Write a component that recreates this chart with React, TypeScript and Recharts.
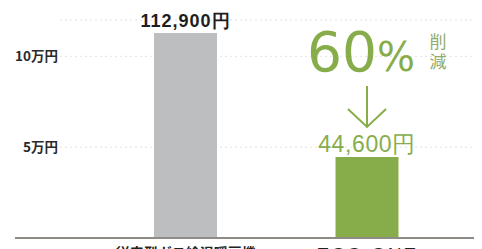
import { Bar, BarChart, CartesianGrid, Cell, LabelList, ReferenceLine, XAxis, YAxis } from "recharts";

const categories = ["従来型ガス給湯暖房機", "ECO ONE"];
const costs = [112900, 44600];
const costLabels = ["112,900円", "44,600円"];
const yTicks = [50000, 100000];
const yTickLabels = ["5万円", "10万円"];
const reduction = "60";

const data = categories.map((name, i) => ({ name, cost: costs[i], label: costLabels[i] }));

const GRAY = "#bdbec0";
const GREEN = "#87ad4b";
const JP = "'Noto Sans CJK JP', 'Noto Sans', sans-serif";
const BIG = "'DejaVu Sans', sans-serif";

function XTick(props: any) {
  const { x, y, payload, index } = props;
  const eco = index === 1;
  return (
    <text x={x} y={y + (eco ? 15 : 12)} textAnchor="middle" fontFamily={eco ? "'Liberation Sans', sans-serif" : JP}
      fontSize={eco ? 19 : 14} fontWeight={eco ? 400 : 700} fill="#222" letterSpacing={eco ? 2 : 0}>
      {payload.value}
    </text>
  );
}

function CostLabel(props: any) {
  const vb = props.viewBox ?? props;
  const x = props.x ?? vb.x;
  const y = props.y ?? vb.y;
  const width = props.width ?? vb.width;
  const cx = x + width / 2;
  if (props.index === 0) {
    return (
      <text x={cx} y={y - 6} textAnchor="middle" fontFamily="'Liberation Sans', sans-serif" fontSize={18}
        fontWeight={700} fill="#1e1e1e" letterSpacing={1}>{data[0].label}</text>
    );
  }
  return (
    <g>
      <text x={cx} y={y - 5} textAnchor="middle" fontFamily="'Liberation Sans', sans-serif" fontSize={23}
        fill={GREEN} letterSpacing={0.6}>{data[1].label}</text>
      <g stroke={GREEN} strokeWidth={2} fill="none">
        <line x1={cx} y1={y - 71} x2={cx} y2={y - 30} />
        <polyline points={`${cx - 19},${y - 48} ${cx},${y - 30} ${cx + 19},${y - 48}`} />
      </g>
      <text x={cx + 10} y={y - 86} textAnchor="end" fontFamily={BIG} fontSize={55}
        fill={GREEN}>{reduction}</text>
      <text x={cx + 10} y={y - 86} textAnchor="start" fontFamily={BIG} fontSize={40} letterSpacing={-1}
        fill={GREEN}>%</text>
      <text x={cx + 71} y={y - 109} textAnchor="middle" fontFamily={JP} fontSize={17} fill="#8fab6e">削</text>
      <text x={cx + 71} y={y - 89} textAnchor="middle" fontFamily={JP} fontSize={17} fill="#8fab6e">減</text>
    </g>
  );
}

export default function App() {
  return (
    <BarChart width={474} height={270} data={data} margin={{ top: 12, right: 0, bottom: 0, left: 7 }}>
      <CartesianGrid vertical={false} stroke="#e2e2e2" strokeDasharray="2 3" />
      <XAxis dataKey="name" axisLine={false} tickLine={false} height={40} padding={{ left: 35, right: 24 }}
        tick={<XTick />} interval={0} />
      <YAxis width={45} domain={[0, 120000]} ticks={yTicks} axisLine={false} tickLine={false} tickSize={0}
        tickMargin={2} tickFormatter={(v: number) => yTickLabels[yTicks.indexOf(v)]}
        tick={{ fontSize: 13.5, fontWeight: 700, fill: "#2a2a2a", fontFamily: JP }} />
      <Bar dataKey="cost" barSize={63} isAnimationActive={false}>
        {data.map((d, i) => <Cell key={d.name} fill={i === 0 ? GRAY : GREEN} />)}
        <LabelList dataKey="label" content={<CostLabel />} />
      </Bar>
      <ReferenceLine y={0} stroke="#8f8c88" strokeWidth={2}
        shape={(p: any) => <line x1={p.x1 - 45} y1={p.y1} x2={p.x2} y2={p.y2} stroke="#8f8c88" strokeWidth={2} />} />
    </BarChart>
  );
}
